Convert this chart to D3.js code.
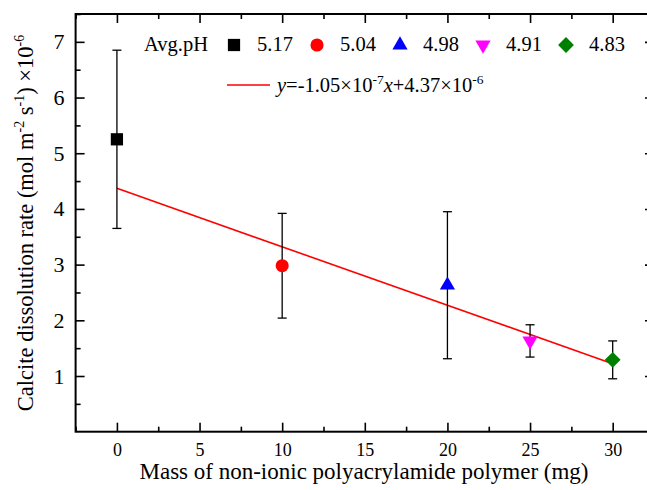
<!DOCTYPE html>
<html>
<head>
<meta charset="utf-8">
<script src="https://cdn.jsdelivr.net/npm/d3@7"></script>
<style>
  body { margin: 0; background: #fff; }
  svg text { font-family: 'Liberation Serif', Tinos, 'Times New Roman', Times, 'Nimbus Roman', 'DejaVu Serif', 'Noto Serif', serif !important; }
</style>
</head>
<body>
<svg id="chart" width="647" height="490"></svg>
<script>
// Calcite dissolution rate vs. polymer mass
const masses = [0, 10, 20, 25, 30];
const rates = [5.25, 2.98, 2.63, 1.63, 1.29];
const errors = [1.6, 0.94, 1.32, 0.29, 0.34];
const phLabels = ["5.17", "5.04", "4.98", "4.91", "4.83"];
const colors = ["#000000", "#ff0000", "#0000ff", "#ff00ff", "#008000"];
const symbolNames = ["square", "circle", "triangle", "triangleDown", "diamond"];
const fitSlope = -0.105;
const fitIntercept = 4.37;
const xTicks = [0, 5, 10, 15, 20, 25, 30];
const xMinorTicks = [-2.5, 2.5, 7.5, 12.5, 17.5, 22.5, 27.5, 32.5];
const yTicks = [1, 2, 3, 4, 5, 6, 7];
const yMinorTicks = [0.5, 1.5, 2.5, 3.5, 4.5, 5.5, 6.5, 7.5];

const svg = d3.select("#chart");
const L = 75.6, R = 654, T = 14, B = 431.7;

const x = d3.scaleLinear().domain([-2.5, 32.5]).range([L, R]);
const y = d3.scaleLinear().domain([0, 7.5]).range([B, T]);

// symbol generators
const symbolDefs = {
  square: { type: d3.symbolSquare, size: 150, rot: 0 },
  circle: { type: d3.symbolCircle, size: 135, rot: 0 },
  triangle: { type: d3.symbolTriangle, size: 100, rot: 0 },
  triangleDown: { type: d3.symbolTriangle, size: 100, rot: 180 },
  diamond: { type: d3.symbolSquare, size: 125, rot: 45 }
};
function symPath(name) {
  const d = symbolDefs[name];
  return d3.symbol().type(d.type).size(d.size)();
}

// axes: ticks pointing inward on all four sides
function addAxis(axisFn, scale, ticks, size, transform, labels, pad, fontSize) {
  const g = svg.append("g").attr("transform", transform)
    .call(axisFn(scale).tickValues(ticks).tickSize(size).tickSizeOuter(0)
      .tickPadding(pad)
      .tickFormat(labels ? d3.format("d") : () => ""));
  g.attr("font-family", null);
  g.select(".domain").remove();
  g.selectAll(".tick line").attr("stroke", "#000").attr("stroke-width", 1.6);
  g.selectAll(".tick text").attr("fill", "#000")
    .style("font-size", fontSize + "px");
  return g;
}
addAxis(d3.axisBottom, x, xTicks, -9, `translate(0,${B})`, true, 12, 18);
addAxis(d3.axisBottom, x, xMinorTicks, -5, `translate(0,${B})`, false, 0, 10);
addAxis(d3.axisTop, x, xTicks, -9, `translate(0,${T})`, false, 0, 10);
addAxis(d3.axisTop, x, xMinorTicks, -5, `translate(0,${T})`, false, 0, 10);
addAxis(d3.axisLeft, y, yTicks, -9, `translate(${L},0)`, true, 11, 22);
addAxis(d3.axisLeft, y, yMinorTicks, -5, `translate(${L},0)`, false, 0, 10);
addAxis(d3.axisRight, y, yTicks, -9, `translate(${R},0)`, false, 0, 10);
addAxis(d3.axisRight, y, yMinorTicks, -5, `translate(${R},0)`, false, 0, 10);

// frame
svg.append("rect")
  .attr("x", L).attr("y", T).attr("width", R - L).attr("height", B - T)
  .attr("fill", "none").attr("stroke", "#000").attr("stroke-width", 2);

// linear fit
svg.append("line")
  .attr("x1", x(0)).attr("y1", y(fitIntercept))
  .attr("x2", x(30)).attr("y2", y(fitIntercept + fitSlope * 30))
  .attr("stroke", "#ff0000").attr("stroke-width", 1.6);

// error bars
const eb = svg.append("g").selectAll("g").data(masses).join("g");
eb.append("line")
  .attr("x1", (d) => x(d)).attr("x2", (d) => x(d))
  .attr("y1", (d, i) => y(rates[i] + errors[i]))
  .attr("y2", (d, i) => y(rates[i] - errors[i]))
  .attr("stroke", "#000").attr("stroke-width", 1.3);
[1, -1].forEach((s) => {
  eb.append("line")
    .attr("x1", (d) => x(d) - 4.5).attr("x2", (d) => x(d) + 4.5)
    .attr("y1", (d, i) => y(rates[i] + s * errors[i]))
    .attr("y2", (d, i) => y(rates[i] + s * errors[i]))
    .attr("stroke", "#000").attr("stroke-width", 1.3);
});

// data markers
svg.append("g").selectAll("path").data(masses).join("path")
  .attr("d", (d, i) => symPath(symbolNames[i]))
  .attr("transform", (d, i) =>
    `translate(${x(d)},${y(rates[i])}) rotate(${symbolDefs[symbolNames[i]].rot})`)
  .attr("fill", (d, i) => colors[i]);

// legend
const leg = svg.append("g");
leg.append("text").attr("x", 144).attr("y", 51)
  .style("font-size", "20.5px").text("Avg.pH");
const items = leg.selectAll("g.item").data(phLabels).join("g").attr("class", "item")
  .attr("transform", (d, i) => `translate(${234 + i * 83},45)`);
items.append("path")
  .attr("d", (d, i) => symPath(symbolNames[i]))
  .attr("transform", (d, i) => `rotate(${symbolDefs[symbolNames[i]].rot})`)
  .attr("fill", (d, i) => colors[i]);
items.append("text").attr("x", 23).attr("y", 6)
  .style("font-size", "20.5px").text((d) => d);

leg.append("line").attr("x1", 227).attr("x2", 270).attr("y1", 85).attr("y2", 85)
  .attr("stroke", "#ff0000").attr("stroke-width", 1.6);
const eq = leg.append("text").attr("x", 277).attr("y", 92).style("font-size", "20.5px");
eq.append("tspan").style("font-style", "italic").text("y");
eq.append("tspan").text("=-1.05\u00d710");
eq.append("tspan").attr("dy", -8).style("font-size", "13.5px").text("-7");
eq.append("tspan").attr("dy", 8).style("font-style", "italic").text("x");
eq.append("tspan").text("+4.37\u00d710");
eq.append("tspan").attr("dy", -8).style("font-size", "13.5px").text("-6");

// axis titles
svg.append("text").attr("x", 364).attr("y", 479)
  .attr("text-anchor", "middle").style("font-size", "23px")
  .text("Mass of non-ionic polyacrylamide polymer (mg)");

const yt = svg.append("text")
  .attr("transform", "translate(33,223) rotate(-90)")
  .attr("text-anchor", "middle").style("font-size", "22.5px");
yt.append("tspan").text("Calcite dissolution rate (mol m");
yt.append("tspan").attr("dy", -9).style("font-size", "14px").text("-2");
yt.append("tspan").attr("dy", 9).text(" s");
yt.append("tspan").attr("dy", -9).style("font-size", "14px").text("-1");
yt.append("tspan").attr("dy", 9).text(") \u00d710");
yt.append("tspan").attr("dy", -9).style("font-size", "14px").text("-6");
</script>
</body>
</html>
